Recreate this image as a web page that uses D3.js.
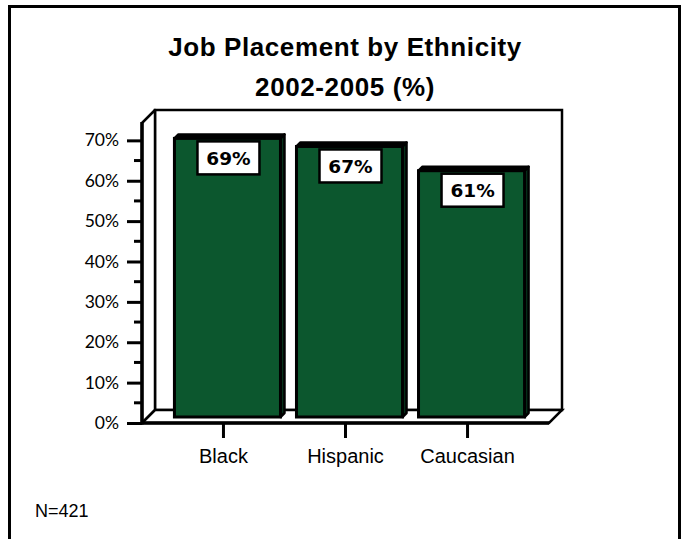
<!DOCTYPE html>
<html><head><meta charset="utf-8">
<script src="https://cdn.jsdelivr.net/npm/d3@7/dist/d3.min.js"></script>
<style>body{margin:0;background:#fff}svg{display:block}</style>
</head><body>
<script>
const categories = ["Black", "Hispanic", "Caucasian"];
const values = [69, 67, 61];
const valueLabels = ["69%", "67%", "61%"];
const yTicks = [0, 10, 20, 30, 40, 50, 60, 70];
const titleLines = ["Job Placement by Ethnicity", "2002-2005 (%)"];
const note = "N=421";

const W = 686, H = 539;
const svg = d3.select("body").append("svg").attr("width", W).attr("height", H);

// outer frame
svg.append("rect").attr("x", 9.5).attr("y", 6.5).attr("width", 670).attr("height", 545)
  .attr("fill", "#fff").attr("stroke", "#000").attr("stroke-width", 3);

// title
svg.selectAll("text.title").data(titleLines).enter().append("text")
  .attr("x", 345).attr("y", (d, i) => 56 + i * 40)
  .attr("text-anchor", "middle")
  .attr("font-family", "Liberation Sans, Arial, sans-serif")
  .attr("font-weight", "bold").attr("font-size", 26)
  .attr("letter-spacing", 0.6)
  .text(d => d);

const x0 = 142, x1 = 549, yBase = 423, yTop = 123;
const dx = 13, dy = -13;
const y = d3.scaleLinear().domain([0, 74.3]).range([yBase, yTop]);
const x = d3.scaleBand().domain(categories).range([x0, x1]).paddingInner(0.131).paddingOuter(0.233);

const g = svg.append("g");
// back wall
g.append("rect").attr("x", x0 + dx).attr("y", yTop + dy).attr("width", x1 - x0).attr("height", yBase - yTop)
  .attr("fill", "#fff").attr("stroke", "#000").attr("stroke-width", 2.5);
// left wall
g.append("path").attr("d", `M${x0},${yTop}L${x0 + dx},${yTop + dy}L${x0 + dx},${yBase + dy}L${x0},${yBase}Z`)
  .attr("fill", "#fff").attr("stroke", "#000").attr("stroke-width", 2.5).attr("stroke-linejoin", "round");
// floor
g.append("path").attr("d", `M${x0},${yBase}L${x1},${yBase}L${x1 + dx},${yBase + dy}L${x0 + dx},${yBase + dy}Z`)
  .attr("fill", "#fff").attr("stroke", "#000").attr("stroke-width", 2.5);

// y axis
const yAxis = d3.axisLeft(y).tickValues(yTicks).tickSize(15).tickPadding(8).tickFormat(d => d + "%");
const ya = svg.append("g").attr("transform", `translate(${x0},0)`).call(yAxis);
ya.select(".domain").remove();
ya.selectAll(".tick line").attr("stroke", "#000").attr("stroke-width", 3);
ya.selectAll(".tick text").attr("font-family", "Lato, Liberation Sans, sans-serif").attr("font-size", 17.5).attr("fill", "#000");
// minor ticks
const minor = d3.range(5, 75, 10);
svg.selectAll("line.minor").data(minor).enter().append("line")
  .attr("x1", x0 - 8).attr("x2", x0).attr("y1", d => y(d)).attr("y2", d => y(d))
  .attr("stroke", "#000").attr("stroke-width", 3);
// front axis lines
svg.append("line").attr("x1", x0).attr("x2", x0).attr("y1", yTop - 1).attr("y2", yBase + 1.5)
  .attr("stroke", "#000").attr("stroke-width", 3.5);
svg.append("line").attr("x1", x0).attr("x2", x1).attr("y1", yBase).attr("y2", yBase)
  .attr("stroke", "#000").attr("stroke-width", 3.5);

// x axis
const xAxis = d3.axisBottom(x).tickSize(15).tickPadding(11);
const xa = svg.append("g").attr("transform", `translate(0,${yBase})`).call(xAxis);
xa.select(".domain").remove();
xa.selectAll(".tick line").attr("stroke", "#000").attr("stroke-width", 3);
xa.selectAll(".tick text").attr("font-family", "Liberation Sans, Arial, sans-serif").attr("font-size", 20).attr("fill", "#000");

// bars (placed at mid depth)
const bx = 4, by = -6, bd = 4;
const yb = v => y(v) + by;
const green = "#0c572e";
const bars = svg.selectAll("g.bar").data(categories.map((c, i) => ({ c, v: values[i], l: valueLabels[i] })))
  .enter().append("g");
bars.append("path").attr("d", d => {
  const L = x(d.c) + bx, R = L + x.bandwidth(), T = yb(d.v), B = yBase + by;
  return `M${R},${T}L${R + bd},${T - bd}L${R + bd},${B - bd}L${R},${B}Z`;
}).attr("fill", "#06321a").attr("stroke", "#000").attr("stroke-width", 2.5).attr("stroke-linejoin", "round");
bars.append("path").attr("d", d => {
  const L = x(d.c) + bx, R = L + x.bandwidth(), T = yb(d.v);
  return `M${L},${T}L${L + bd},${T - bd}L${R + bd},${T - bd}L${R},${T}Z`;
}).attr("fill", "#000").attr("stroke", "#000").attr("stroke-width", 2.5).attr("stroke-linejoin", "round");
bars.append("rect")
  .attr("x", d => x(d.c) + bx).attr("y", d => yb(d.v))
  .attr("width", x.bandwidth()).attr("height", d => yBase + by - yb(d.v))
  .attr("fill", green).attr("stroke", "#000").attr("stroke-width", 3);

// value label boxes
const bw = 62, bh = 33;
bars.append("rect")
  .attr("x", d => x(d.c) + bx + x.bandwidth() / 2 - bw / 2 + 1)
  .attr("y", d => yb(d.v) + 3)
  .attr("width", bw).attr("height", bh)
  .attr("fill", "#fff").attr("stroke", "#000").attr("stroke-width", 2.5);
bars.append("text")
  .attr("x", d => x(d.c) + bx + x.bandwidth() / 2 + 1)
  .attr("y", d => yb(d.v) + 3 + bh / 2 + 7)
  .attr("text-anchor", "middle")
  .attr("font-family", "DejaVu Sans, Verdana, sans-serif").attr("font-weight", "bold").attr("font-size", 18.5)
  .text(d => d.l);

// note
svg.append("text").attr("x", 35).attr("y", 517)
  .attr("font-family", "Liberation Sans, Arial, sans-serif").attr("font-size", 18)
  .text(note);
</script>
</body></html>
